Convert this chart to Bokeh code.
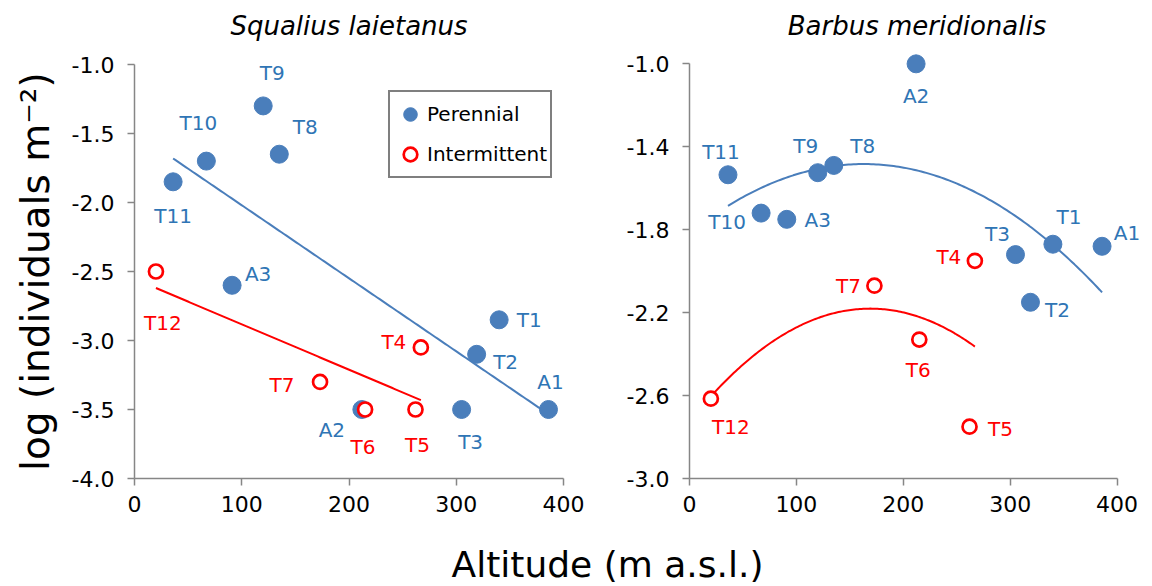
import math
import numpy as np
from bokeh.plotting import figure
from bokeh.models import (ColumnDataSource, Range1d, FixedTicker, NumeralTickFormatter,
                          Legend, LegendItem, Label)
from bokeh.layouts import row, column
from bokeh.core.properties import value
from bokeh.embed import file_html
from bokeh.resources import INLINE

# ---------------- data ----------------
perennial_sites = ["T11", "T10", "A3", "T9", "T8", "A2", "T3", "T2", "T1", "A1"]
perennial_altitude = [36, 67, 91, 120, 135, 212, 305, 319, 340, 386]
squalius_perennial = [-1.85, -1.70, -2.60, -1.30, -1.65, -3.50, -3.50, -3.10, -2.85, -3.50]
barbus_perennial = [-1.535, -1.72, -1.75, -1.525, -1.49, -1.00, -1.92, -2.15, -1.87, -1.88]

intermittent_sites = ["T12", "T7", "T6", "T5", "T4"]
intermittent_altitude = [20, 173, 215, 262, 267]
squalius_intermittent = [-2.50, -3.30, -3.50, -3.50, -3.05]
barbus_intermittent = [-2.615, -2.07, -2.33, -2.75, -1.95]

x_ticks = [0, 100, 200, 300, 400]
squalius_y_ticks = [-4.0, -3.5, -3.0, -2.5, -2.0, -1.5, -1.0]
barbus_y_ticks = [-3.0, -2.6, -2.2, -1.8, -1.4, -1.0]

y_title = "log (individuals m⁻²)"
x_title = "Altitude (m a.s.l.)"

# label placement (screen px offsets from the point, y downwards)
squalius_label_offsets = {
    "T9": (9, -33), "T10": (-8, -38), "T8": (26, -27), "T11": (0, 34), "A3": (26, -11),
    "T1": (30, 0), "T2": (29, 8), "A1": (2, -28), "T3": (9, 32), "A2": (-30, 20),
    "T12": (7, 51), "T4": (-27, -5), "T7": (-38, 3), "T6": (-2, 37), "T5": (2, 35)}
barbus_label_offsets = {
    "A2": (0, 32), "T11": (-7, -23), "T9": (-12, -27), "T8": (29, -19), "T10": (-34, 9),
    "A3": (31, 1), "T3": (-18, -21), "T1": (16, -27), "A1": (25, -13), "T2": (27, 8),
    "T4": (-26, -4), "T7": (-26, 0), "T6": (-1, 30), "T12": (20, 28), "T5": (31, 2)}

BLUE = "#4A7EBB"
BLUE_TEXT = "#2F75B5"
RED = "#FF0000"
AXIS = "#868686"
FONT = "DejaVu Sans"
ROW_H = 528


def fit_curve(xs, ys, deg):
    coef = np.polyfit(xs, ys, deg)
    xx = np.linspace(min(xs), max(xs), 150)
    return xx, np.polyval(coef, xx)


def blank_fig(width, height):
    f = figure(width=width, height=height, output_backend="svg", toolbar_location=None,
               x_range=Range1d(0, width), y_range=Range1d(0, height),
               x_axis_type=None, y_axis_type=None,
               min_border_left=0, min_border_right=0, min_border_top=0, min_border_bottom=0)
    f.outline_line_color = None
    f.xgrid.visible = False
    f.ygrid.visible = False
    return f


def panel(title, per_y, int_y, y_range, y_ticks, x_end, width, border_left, border_right,
          offsets, deg):
    p = figure(width=width, height=ROW_H, output_backend="svg", toolbar_location=None,
               x_range=Range1d(0, x_end), y_range=Range1d(*y_range),
               min_border_left=border_left, min_border_right=border_right,
               min_border_top=48, min_border_bottom=50, title=title)
    p.title.align = "center"
    p.title.text_font = FONT
    p.title.text_font_size = "26px"
    p.title.text_font_style = "italic"
    p.title.text_color = "black"
    p.title.standoff = 15
    p.outline_line_color = None
    p.xgrid.visible = False
    p.ygrid.visible = False
    p.background_fill_color = "white"
    p.border_fill_color = "white"

    for ax in (p.xaxis[0], p.yaxis[0]):
        ax.axis_line_color = AXIS
        ax.axis_line_width = 1.5
        ax.major_tick_line_color = AXIS
        ax.major_tick_line_width = 1.5
        ax.major_tick_out = 7
        ax.major_tick_in = 0
        ax.minor_tick_line_color = None
        ax.major_label_text_font = FONT
        ax.major_label_text_font_size = "22px"
        ax.major_label_text_color = "black"
    p.xaxis.major_label_standoff = 10
    p.yaxis.major_label_standoff = 13
    p.xaxis.bounds = (x_ticks[0], x_ticks[-1])
    p.yaxis.bounds = (y_ticks[0], y_ticks[-1])
    p.xaxis.ticker = FixedTicker(ticks=x_ticks)
    p.yaxis.ticker = FixedTicker(ticks=y_ticks)
    p.yaxis.formatter = NumeralTickFormatter(format="0.0")

    # trend lines
    xx, yy = fit_curve(perennial_altitude, per_y, deg)
    p.line(xx, yy, line_color=BLUE, line_width=2)
    xx, yy = fit_curve(intermittent_altitude, int_y, deg)
    p.line(xx, yy, line_color=RED, line_width=2)

    r_per = p.scatter(perennial_altitude, per_y, size=18, marker="circle",
                      fill_color=BLUE, line_color=BLUE, line_width=1)
    r_int = p.scatter(intermittent_altitude, int_y, size=14, marker="circle",
                      fill_color="white", line_color=RED, line_width=2.7)

    for sites, xs, ys, color in ((perennial_sites, perennial_altitude, per_y, BLUE_TEXT),
                                 (intermittent_sites, intermittent_altitude, int_y, RED)):
        src = ColumnDataSource(dict(x=xs, y=ys, text=sites,
                                    dx=[offsets[s][0] for s in sites],
                                    dy=[offsets[s][1] for s in sites]))
        p.text(x="x", y="y", text="text", x_offset="dx", y_offset="dy", source=src,
               text_align="center", text_baseline="middle", text_font=value(FONT),
               text_font_size="20px", text_color=color)
    return p, r_per, r_int


# shared y-axis title (narrow strip at the left)
py = blank_fig(60, ROW_H)
py.add_layout(Label(x=35, y=ROW_H - 274, text=y_title, angle=math.pi / 2,
                    text_align="center", text_baseline="middle", text_font=FONT,
                    text_font_size="39px", text_color="black"))

p1, r_per, r_int = panel("Squalius laietanus", squalius_perennial, squalius_intermittent,
                         (-4.0, -0.884), squalius_y_ticks, 400, 552, 74, 49,
                         squalius_label_offsets, 1)

legend = Legend(items=[LegendItem(label="Perennial", renderers=[r_per]),
                       LegendItem(label="Intermittent", renderers=[r_int])],
                location=(254, 300), border_line_color="black", border_line_width=2,
                padding=3, spacing=2, glyph_width=34, glyph_height=38, label_standoff=0,
                label_text_font=FONT, label_text_font_size="20px", label_text_color="black",
                label_height=24, margin=0, background_fill_color="white",
                background_fill_alpha=1.0)
p1.add_layout(legend)

p2, _, _ = panel("Barbus meridionalis", barbus_perennial, barbus_intermittent,
                 (-3.0, -0.926), barbus_y_ticks, 425.7, 532, 77, 0,
                 barbus_label_offsets, 2)

# shared x-axis title
px = blank_fig(1144, 58)
px.add_layout(Label(x=607, y=22, text=x_title, text_align="center",
                    text_baseline="middle", text_font=FONT, text_font_size="36px",
                    text_color="black"))

layout = column(row(py, p1, p2), px)
open("out.html", "w").write(file_html(layout, INLINE))
